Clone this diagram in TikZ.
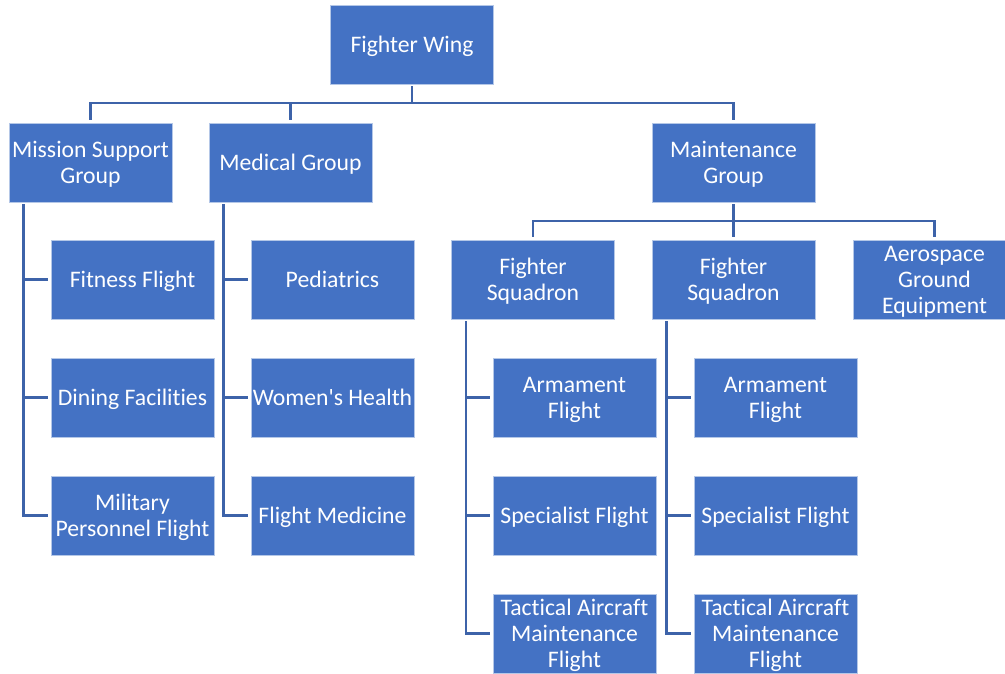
\documentclass[tikz,border=0pt]{standalone}
\usepackage{fontspec}
\setmainfont{Carlito}[Ligatures={TeXOff,NoCommon}]
\definecolor{boxblue}{HTML}{4472C4}
\definecolor{linkblue}{HTML}{3D63A9}
\newcommand\bxt[1]{\raisebox{-3pt}[\height][\depth]{\begin{tabular}{@{}c@{}}#1\end{tabular}}}
\begin{document}
\begin{tikzpicture}[x=1pt,y=-1pt,
  box/.style={rectangle, fill=boxblue, draw=white!60!boxblue, line width=0.8pt,
    minimum width=163pt, minimum height=79pt, inner sep=0pt,
    text=white, font=\fontsize{23.7}{26}\selectfont},
  conn/.style={draw=linkblue, line width=2.6pt, shorten <=2pt, shorten >=3pt}]
\useasboundingbox (0,0) rectangle (1005,673);
\clip (0,0) rectangle (1005,673);
\fill[white] (0,0) rectangle (1005,673);

\node[box] (fw)  at (412,44.5) {\bxt{Fighter Wing}};
\node[box] (msg) at (90.5,162.5) {\bxt{Mission Support\\Group}};
\node[box] (med) at (290.5,162.5) {\bxt{Medical Group}};
\node[box] (mnt) at (733.5,162.5) {\bxt{Maintenance\\Group}};

\node[box] (ff)  at (132.5,279.5) {\bxt{Fitness Flight}};
\node[box] (df)  at (132.5,397.5) {\bxt{Dining Facilities}};
\node[box] (mpf) at (132.5,515.5) {\bxt{Military\\Personnel Flight}};

\node[box] (ped) at (332.5,279.5) {\bxt{Pediatrics}};
\node[box] (wh)  at (332.5,397.5) {\bxt{Women's Health}};
\node[box] (fm)  at (332.5,515.5) {\bxt{Flight Medicine}};

\node[box] (fs1) at (533,279.5) {\bxt{Fighter\\Squadron}};
\node[box] (fs2) at (733.5,279.5) {\bxt{Fighter\\Squadron}};
\node[box] (age) at (934.5,279.5) {\bxt{Aerospace\\Ground\\Equipment}};

\node[box] (af1) at (574.5,397.5) {\bxt{Armament\\Flight}};
\node[box] (sf1) at (574.5,515.5) {\bxt{Specialist Flight}};
\node[box] (ta1) at (574.5,633.5) {\bxt{Tactical Aircraft\\Maintenance\\Flight}};

\node[box] (af2) at (775.5,397.5) {\bxt{Armament\\Flight}};
\node[box] (sf2) at (775.5,515.5) {\bxt{Specialist Flight}};
\node[box] (ta2) at (775.5,633.5) {\bxt{Tactical Aircraft\\Maintenance\\Flight}};

% level 1 -> level 2
\draw[conn] (fw.south) -- ++(0,18.5) -| (msg.north);
\draw[conn] (fw.south) -- ++(0,18.5) -| (med.north);
\draw[conn] (fw.south) -- ++(0,18.5) -| (mnt.north);

% maintenance -> squadrons
\draw[conn] (mnt.south) -- ++(0,18.5) -| (fs1.north);
\draw[conn] (mnt.south) -- ++(0,18.5) -| (fs2.north);
\draw[conn] (mnt.south) -- ++(0,18.5) -| (age.north);

% spines
\foreach \p/\c in {msg/ff, msg/df, msg/mpf, med/ped, med/wh, med/fm,
                   fs1/af1, fs1/sf1, fs1/ta1, fs2/af2, fs2/sf2, fs2/ta2}
  \draw[conn] ([xshift=15pt]\p.south west) |- (\c.west);
\end{tikzpicture}
\end{document}
